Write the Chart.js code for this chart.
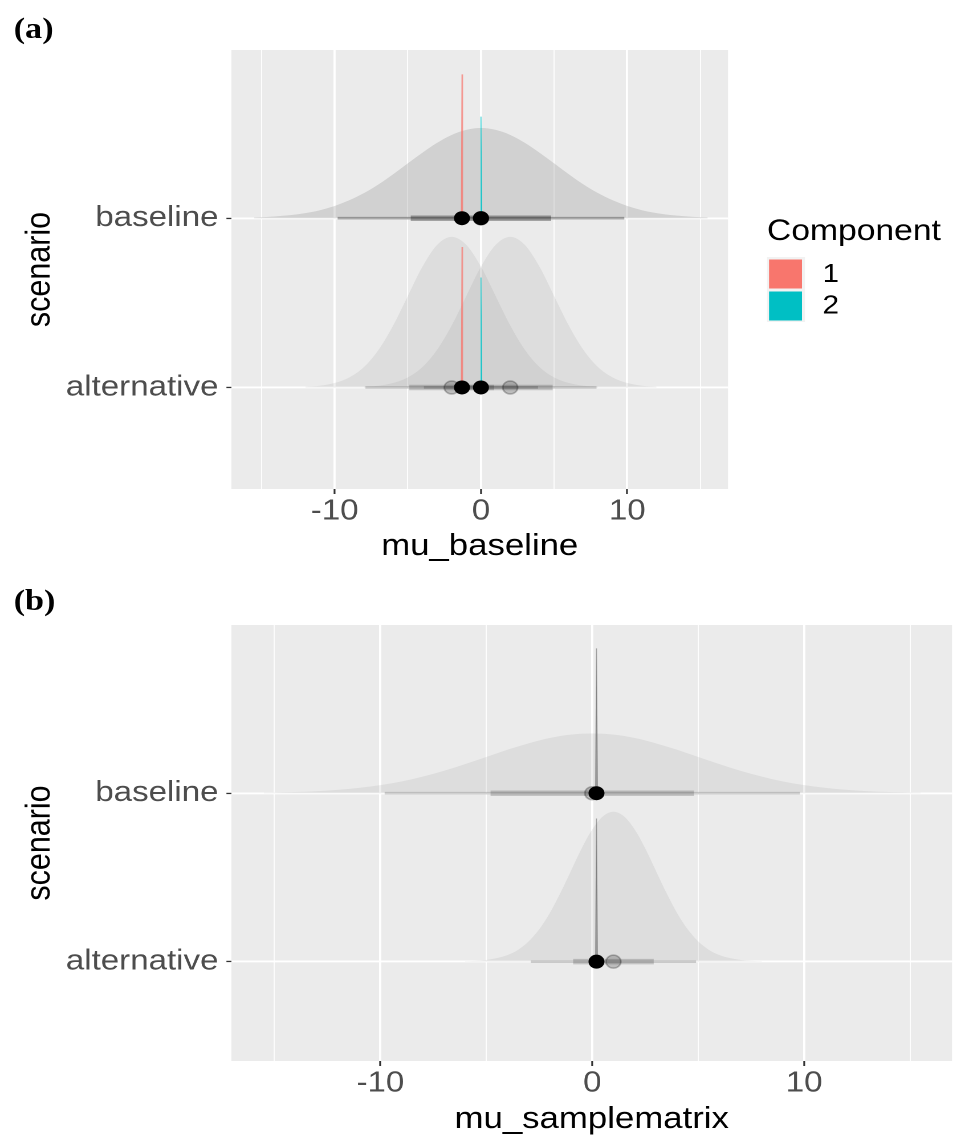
<!DOCTYPE html>
<html>
<head>
<meta charset="utf-8">
<script src="https://cdn.jsdelivr.net/npm/chart.js@4.4.0/dist/chart.umd.min.js"></script>
<style>
html,body{margin:0;padding:0;background:#fff;}
#wrap{position:absolute;left:0;top:0;width:838px;height:1135px;transform:scaleX(1.14);transform-origin:0 0;}
.panel{position:absolute;left:0;}
.tag{position:absolute;left:12px;font:bold 30px "Liberation Serif","DejaVu Serif",serif;line-height:1;color:#000;}
</style>
</head>
<body>
<div id="wrap">
  <div class="tag" style="top:13px">(a)</div>
  <canvas id="ca" class="panel" width="838" height="565" style="top:0px"></canvas>
  <div class="tag" style="top:585px">(b)</div>
  <canvas id="cb" class="panel" width="838" height="570" style="top:565px"></canvas>
</div>
<script>
// ---------- shared ----------
const scenarios = ['alternative', 'baseline'];          // y = 1, 2
const components = ['1', '2'];
const compColors = ['#F8766D', '#00BFC4'];
const xTickValues = [-15, -10, -5, 0, 5, 10, 15];
const xTickLabels = ['', '-10', '', '0', '', '10', ''];

// ---------- panel (a): mu_baseline ----------
// prior slab, baseline scenario (same for both components)
const aSlabBaseX = [-15.5,-15,-14,-13,-12,-11,-10,-9,-8,-7,-6,-5,-4,-3,-2,-1,0,1,2,3,4,5,6,7,8,9,10,11,12,13,14,15,15.5];
const aSlabBaseH = [0.004,0.006,0.011,0.018,0.030,0.047,0.072,0.106,0.148,0.200,0.260,0.324,0.387,0.445,0.492,0.522,0.533,0.522,0.492,0.445,0.387,0.324,0.260,0.200,0.148,0.106,0.072,0.047,0.030,0.018,0.011,0.006,0.004];
// prior slabs, alternative scenario
const aSlabAlt1X = [-12,-11,-10,-9,-8,-7,-6,-5,-4,-3,-2,-1,0,1,2,3,4,5,6,7,8];
const aSlabAlt1H = [0.004,0.010,0.026,0.059,0.120,0.222,0.366,0.540,0.713,0.842,0.890,0.842,0.713,0.540,0.366,0.222,0.120,0.059,0.026,0.010,0.004];
const aSlabAlt2X = [-8,-7,-6,-5,-4,-3,-2,-1,0,1,2,3,4,5,6,7,8,9,10,11,12];
const aSlabAlt2H = [0.004,0.010,0.026,0.059,0.120,0.222,0.366,0.540,0.713,0.842,0.890,0.842,0.713,0.540,0.366,0.222,0.120,0.059,0.026,0.010,0.004];
// posterior spikes per component
const aSpikeX = [-1.3, 0.0];
const aSpikeHBase = [0.85, 0.60];
const aSpikeHAlt = [0.83, 0.65];
// point summaries
const aPostMedian = [-1.3, 0.0];
const aPriorMedianBase = [0, 0];
const aPriorMedianAlt = [-2, 2];
// prior intervals
const aPrior95Base = [[-9.8, 9.8], [-9.8, 9.8]];
const aPrior66Base = [[-4.8, 4.8], [-4.8, 4.8]];
const aPrior95Alt = [[-7.9, 3.9], [-3.9, 7.9]];
const aPrior66Alt = [[-4.9, 0.9], [-0.9, 4.9]];

// ---------- panel (b): mu_samplematrix ----------
const bSlabBaseX = [-15.5,-15,-14,-13,-12,-11,-10,-9,-8,-7,-6,-5,-4,-3,-2,-1,0,1,2,3,4,5,6,7,8,9,10,11,12,13,14,15,15.5];
const bSlabBaseH = [0.003,0.004,0.007,0.012,0.020,0.032,0.048,0.070,0.099,0.133,0.173,0.215,0.258,0.296,0.328,0.348,0.355,0.348,0.328,0.296,0.258,0.215,0.173,0.133,0.099,0.070,0.048,0.032,0.020,0.012,0.007,0.004,0.003];
const bSlabAltX = [-6,-5,-4,-3.5,-3,-2.5,-2,-1.5,-1,-0.5,0,0.5,1,1.5,2,2.5,3,3.5,4,4.5,5,5.5,6,7,8];
const bSlabAltH = [0.002,0.010,0.039,0.070,0.120,0.192,0.289,0.408,0.540,0.672,0.785,0.862,0.890,0.862,0.785,0.672,0.540,0.408,0.289,0.192,0.120,0.070,0.039,0.010,0.002];
const bSpikeX = 0.2;
const bSpikeHBase = 0.86;
const bSpikeHAlt = 0.85;
const bPostMedian = 0.2;
const bPriorMedianBase = 0.0;
const bPriorMedianAlt = 1.0;
const bPrior95Base = [-9.8, 9.8];
const bPrior66Base = [-4.8, 4.8];
const bPrior95Alt = [-2.9, 4.9];
const bPrior66Alt = [-0.9, 2.9];

// ---------- styles ----------
const FONT = '"Liberation Sans", Arial, Helvetica, sans-serif';
const SLAB_FILL = 'rgba(140,140,140,0.15)';
const INT_COLOR = 'rgba(0,0,0,0.17)';
const SPIKE_HALF_W = 0.045;
const THIN_W = 2.6, THICK_W = 5.5;

function slab(xs, hs, base) {
  return { data: xs.map((x, i) => ({ x: x, y: base + hs[i] })), fill: { value: base },
    backgroundColor: SLAB_FILL, borderWidth: 0, pointRadius: 0, cubicInterpolationMode: 'monotone' };
}
function spike(x, h, base, color) {
  return { data: [{ x: x - SPIKE_HALF_W, y: base }, { x: x, y: base + h }, { x: x + SPIKE_HALF_W, y: base }],
    fill: { value: base }, backgroundColor: color, borderColor: color, borderWidth: 0.8, pointRadius: 0, tension: 0 };
}
function interval(lo, hi, base, w) {
  return { data: [{ x: lo, y: base }, { x: hi, y: base }], borderColor: INT_COLOR, borderWidth: w,
    borderCapStyle: 'butt', pointRadius: 0, fill: false };
}
function points(xs, base, kind) {
  const black = kind === 'post';
  return { data: xs.map(x => ({ x: x, y: base })), showLine: false,
    pointRadius: black ? 7 : 6.5,
    pointBackgroundColor: black ? '#000000' : 'rgba(0,0,0,0.2)',
    pointBorderColor: black ? '#000000' : 'rgba(0,0,0,0.25)',
    pointBorderWidth: black ? 0 : 1.5 };
}
function withOrder(ds) { ds.forEach((d, i) => { d.order = ds.length - i; }); return ds; }

const yOf = name => scenarios.indexOf(name) + 1;

// ---------- datasets (a) ----------
const yB = yOf('baseline'), yA = yOf('alternative');
const spikeColA = ['rgba(248,118,109,0.7)', 'rgba(0,191,196,0.85)'];
const dsA = [];
dsA.push(slab(aSlabBaseX, aSlabBaseH, yB), slab(aSlabBaseX, aSlabBaseH, yB));
dsA.push(slab(aSlabAlt1X, aSlabAlt1H, yA), slab(aSlabAlt2X, aSlabAlt2H, yA));
components.forEach((c, k) => {
  dsA.push(spike(aSpikeX[k], aSpikeHBase[k], yB, spikeColA[k]));
  dsA.push(spike(aSpikeX[k], aSpikeHAlt[k], yA, spikeColA[k]));
});
components.forEach((c, k) => {
  dsA.push(interval(aPrior95Base[k][0], aPrior95Base[k][1], yB, THIN_W));
  dsA.push(interval(aPrior66Base[k][0], aPrior66Base[k][1], yB, THICK_W));
  dsA.push(interval(aPrior95Alt[k][0], aPrior95Alt[k][1], yA, THIN_W));
  dsA.push(interval(aPrior66Alt[k][0], aPrior66Alt[k][1], yA, THICK_W));
});
dsA.push(points(aPriorMedianBase, yB, 'prior'), points(aPriorMedianAlt, yA, 'prior'));
dsA.push(points(aPostMedian, yB, 'post'), points(aPostMedian, yA, 'post'));
withOrder(dsA);

// ---------- datasets (b) ----------
const dsB = [];
dsB.push(slab(bSlabBaseX, bSlabBaseH, yB), slab(bSlabAltX, bSlabAltH, yA));
dsB.push(spike(bSpikeX, bSpikeHBase, yB, 'rgba(110,110,110,0.6)'));
dsB.push(spike(bSpikeX, bSpikeHAlt, yA, 'rgba(110,110,110,0.6)'));
dsB.push(interval(bPrior95Base[0], bPrior95Base[1], yB, THIN_W), interval(bPrior66Base[0], bPrior66Base[1], yB, THICK_W));
dsB.push(interval(bPrior95Alt[0], bPrior95Alt[1], yA, THIN_W), interval(bPrior66Alt[0], bPrior66Alt[1], yA, THICK_W));
dsB.push(points([bPriorMedianBase], yB, 'prior'), points([bPriorMedianAlt], yA, 'prior'));
dsB.push(points([bPostMedian], yB, 'post'), points([bPostMedian], yA, 'post'));
withOrder(dsB);

// ---------- plugins ----------
const bgPlugin = { id: 'panelBg', beforeDraw(chart) {
  const a = chart.chartArea, ctx = chart.ctx;
  ctx.save(); ctx.fillStyle = '#EBEBEB'; ctx.fillRect(a.left, a.top, a.right - a.left, a.bottom - a.top); ctx.restore();
} };
const legendPlugin = { id: 'compLegend', afterDraw(chart) {
  const ctx = chart.ctx;
  ctx.save();
  ctx.fillStyle = '#000'; ctx.textBaseline = 'middle'; ctx.textAlign = 'left';
  ctx.font = '29.5px ' + FONT;
  ctx.fillText('Component', 672.8, 232);
  ctx.fillStyle = '#F2F2F2';
  ctx.fillRect(672.8, 257, 33.3, 65);
  components.forEach((c, k) => {
    ctx.fillStyle = compColors[k];
    ctx.fillRect(674.6, 259.5 + k * 32, 28.9, 29);
    ctx.fillStyle = '#000';
    ctx.font = '26px ' + FONT;
    ctx.fillText(c, 721.5, 275 + k * 31.5);
  });
  ctx.restore();
} };

function labelFor(v) { const i = xTickValues.indexOf(v); return i >= 0 ? xTickLabels[i] : ''; }

function panelOptions(p) {
  return {
    responsive: false, animation: false, devicePixelRatio: 2, events: [],
    layout: { autoPadding: false, padding: { left: 0, top: p.padTop, right: p.padRight, bottom: 0 } },
    plugins: { legend: { display: false }, tooltip: { enabled: false } },
    scales: {
      x: {
        type: 'linear', min: p.xMin, max: p.xMax,
        afterBuildTicks: ax => { ax.ticks = xTickValues.map(v => ({ value: v })); },
        afterFit: ax => { ax.height = p.xAxisH; ax.paddingLeft = 0; ax.paddingRight = 0; },
        ticks: { autoSkip: false, maxRotation: 0, padding: 3, color: '#4D4D4D',
          font: { family: FONT, size: 29, lineHeight: 1 }, callback: v => labelFor(v) },
        grid: { color: '#FFFFFF',
          lineWidth: c => (c.tick && c.tick.value % 10 === 0) ? 1.9 : 0.9,
          tickLength: 5, tickWidth: 1.6,
          tickColor: c => (c.tick && c.tick.value % 10 === 0) ? '#333333' : 'rgba(0,0,0,0)' },
        border: { display: false },
        title: { display: true, text: p.xTitle, color: '#000000',
          font: { family: FONT, size: 30.5, lineHeight: 1 }, padding: { top: 0, bottom: p.xTitlePad } }
      },
      y: {
        type: 'linear', min: p.yMin, max: p.yMax,
        afterBuildTicks: ax => { ax.ticks = scenarios.map((s, i) => ({ value: i + 1 })); },
        afterFit: ax => { ax.width = 203; ax.paddingTop = 0; ax.paddingBottom = 0; },
        ticks: { padding: 7, color: '#4D4D4D', font: { family: FONT, size: 29 },
          callback: v => scenarios[Math.round(v) - 1] },
        grid: { color: '#FFFFFF', lineWidth: 1.9, tickLength: 4.4, tickWidth: 1.3, tickColor: '#333333' },
        border: { display: false },
        title: { display: true, text: 'scenario', color: '#000000',
          font: { family: FONT, size: 30.5, lineHeight: 1 }, padding: { top: 20, bottom: 0 } }
      }
    }
  };
}

new Chart(document.getElementById('ca'), {
  type: 'line',
  data: { datasets: dsA },
  options: panelOptions({ padTop: 50, padRight: 838 - 638.6, xAxisH: 76, xMin: -17.06, xMax: 16.89,
    yMin: 0.40, yMax: 2.994, xTitle: 'mu_baseline', xTitlePad: 3 }),
  plugins: [bgPlugin, legendPlugin]
});

new Chart(document.getElementById('cb'), {
  type: 'line',
  data: { datasets: dsB },
  options: panelOptions({ padTop: 60, padRight: 838 - 835.1, xAxisH: 74, xMin: -17.03, xMax: 16.98,
    yMin: 0.41, yMax: 2.999, xTitle: 'mu_samplematrix', xTitlePad: 0 }),
  plugins: [bgPlugin]
});
</script>
</body>
</html>
